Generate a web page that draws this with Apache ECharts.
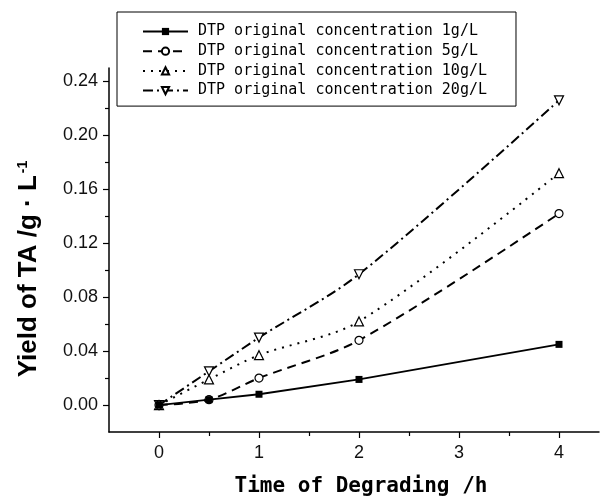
<!DOCTYPE html>
<html><head><meta charset="utf-8">
<script src="https://cdn.jsdelivr.net/npm/echarts@6/dist/echarts.min.js"></script>
<style>html,body{margin:0;padding:0;background:#fff}#c{width:603px;height:503px}</style>
</head><body><div id="c"></div>
<script>
const timeH = [0, 0.5, 1, 2, 4];
const yield1 = [0, 0.004, 0.008, 0.019, 0.045];
const yield5 = [0, 0.004, 0.020, 0.048, 0.142];
const yield10 = [0, 0.019, 0.037, 0.062, 0.172];
const yield20 = [0, 0.025, 0.050, 0.097, 0.226];
const names = ['DTP original concentration 1g/L','DTP original concentration 5g/L','DTP original concentration 10g/L','DTP original concentration 20g/L'];
const xMajor = [0, 1, 2, 3, 4];
const xMinor = [0.5, 1.5, 2.5, 3.5];
const yMajor = [0, 0.04, 0.08, 0.12, 0.16, 0.20, 0.24];
const yMinor = [0.02, 0.06, 0.10, 0.14, 0.18, 0.22];

const pts = arr => timeH.map((t, i) => [t, arr[i]]);
const chart = echarts.init(document.getElementById('c'));
const lbl = {fontFamily: 'Liberation Sans', fontSize: 18, color: '#111'};
const openItem = {color: '#fff', borderColor: '#000', borderWidth: 1.2};
chart.setOption({
  animation: false,
  grid: {left: 109, top: 68, width: 490, height: 364},
  legend: {
    orient: 'vertical', left: 117, top: 12,
    padding: [12, 29, 8, 25],
    borderColor: '#000', borderWidth: 1,
    itemWidth: 45, itemHeight: 9, itemGap: 4.7,
    textStyle: {fontFamily: 'DejaVu Sans Mono', fontSize: 15, color: '#000', padding: [0, 0, 0, 5]},
    data: names
  },
  xAxis: [{
    type: 'value', min: -0.5, max: 4.4, interval: 0.5,
    axisLine: {onZero: false, lineStyle: {color: '#000', width: 1.5}},
    axisTick: {customValues: xMajor, length: 6, lineStyle: {color: '#000', width: 1.2}},
    axisLabel: {customValues: xMajor, margin: 12, ...lbl},
    splitLine: {show: false},
    name: 'Time of Degrading /h', nameLocation: 'middle', nameGap: 44,
    nameTextStyle: {fontFamily: 'DejaVu Sans Mono', fontWeight: 'bold', fontSize: 21, color: '#000', padding: [0, 0, 0, 14]}
  }, {
    type: 'value', min: -0.5, max: 4.4, interval: 0.5, position: 'bottom',
    axisLine: {show: false, onZero: false},
    axisTick: {customValues: xMinor, length: 4, lineStyle: {color: '#000', width: 1.2}},
    axisLabel: {show: false}, splitLine: {show: false}
  }],
  yAxis: [{
    type: 'value', min: -0.02, max: 0.25, interval: 0.02,
    axisLine: {show: true, onZero: false, lineStyle: {color: '#000', width: 1.5}},
    axisTick: {show: true, customValues: yMajor, length: 6, lineStyle: {color: '#000', width: 1.2}},
    axisLabel: {customValues: yMajor, margin: 11, formatter: v => v.toFixed(2), ...lbl},
    splitLine: {show: false},
    name: '{a|Yield of TA /g · L}{s|-1}', nameLocation: 'middle', nameGap: 67, nameRotate: 90,
    nameTextStyle: {padding: [0, 38, 0, 0], rich: {
      a: {fontFamily: 'Liberation Sans', fontWeight: 'bold', fontSize: 26, color: '#000'},
      s: {fontFamily: 'Liberation Sans', fontWeight: 'bold', fontSize: 14, color: '#000', verticalAlign: 'top', padding: [0, 0, 12, 2]}
    }}
  }, {
    type: 'value', min: -0.02, max: 0.25, interval: 0.02, position: 'left',
    axisLine: {show: false, onZero: false},
    axisTick: {show: true, customValues: yMinor, length: 4, lineStyle: {color: '#000', width: 1.2}},
    axisLabel: {show: false}, splitLine: {show: false}
  }],
  series: [{
    name: names[0], type: 'line', data: pts(yield1),
    symbol: 'rect', symbolSize: 7, itemStyle: {color: '#000'},
    lineStyle: {color: '#000', width: 1.8, type: 'solid'}, z: 5
  }, {
    name: names[1], type: 'line', data: pts(yield5), smooth: 0.3,
    symbol: 'circle', symbolSize: 8, itemStyle: openItem,
    lineStyle: {color: '#000', width: 2, type: [9, 6]}, z: 4
  }, {
    name: names[2], type: 'line', data: pts(yield10), smooth: 0.3,
    symbol: 'triangle', symbolSize: 9, itemStyle: openItem,
    lineStyle: {color: '#000', width: 2, type: [2, 6]}, z: 3
  }, {
    name: names[3], type: 'line', data: pts(yield20), smooth: 0.3,
    symbol: 'triangle', symbolRotate: 180, symbolSize: 9, itemStyle: openItem,
    lineStyle: {color: '#000', width: 2, type: [10, 4, 2, 4]}, z: 2
  }]
});
</script></body></html>
